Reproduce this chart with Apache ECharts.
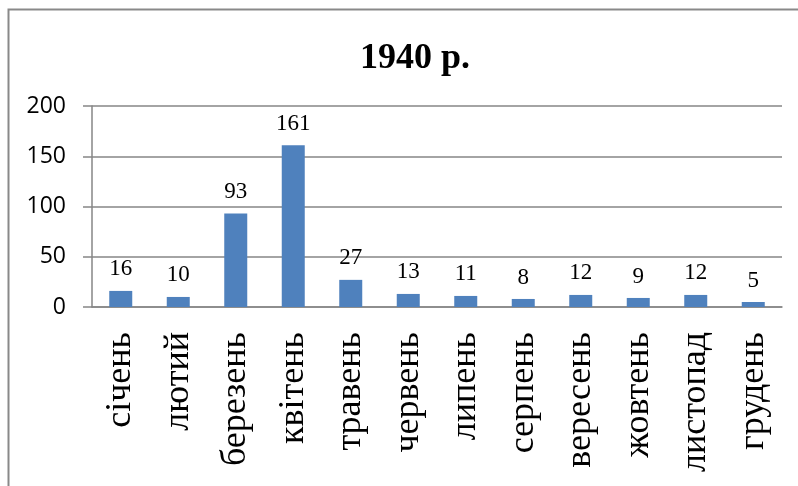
<!DOCTYPE html>
<html>
<head>
<meta charset="utf-8">
<script src="https://cdn.jsdelivr.net/npm/echarts@6/dist/echarts.min.js"></script>
<style>
  html, body { margin: 0; padding: 0; background: #fff; }
  #main { width: 798px; height: 486px; }
</style>
</head>
<body>
<div id="main"></div>
<script>
var months = ['січень', 'лютий', 'березень', 'квітень', 'травень', 'червень',
  'липень', 'серпень', 'вересень', 'жовтень', 'листопад', 'грудень'];
var values = [16, 10, 93, 161, 27, 13, 11, 8, 12, 9, 12, 5];
var yTicks = [0, 50, 100, 150, 200];

var chart = echarts.init(document.getElementById('main'));

var option = {
  backgroundColor: '#fff',
  animation: false,
  title: {
    text: '1940 р.',
    left: 410,
    top: 36,
    textAlign: 'center',
    textStyle: {
      fontFamily: 'Liberation Serif',
      fontWeight: 'bold',
      fontSize: 36,
      color: '#000'
    }
  },
  graphic: [{
    type: 'rect',
    shape: { x: 8.5, y: 9.5, width: 900, height: 600 },
    style: { fill: 'none', stroke: '#898989', lineWidth: 2 },
    silent: true
  }],
  grid: { left: 92, right: 16, top: 106, bottom: 179 },
  xAxis: {
    type: 'category',
    data: months,
    axisLine: { lineStyle: { color: '#868686', width: 1.5 } },
    axisTick: { length: 6, lineStyle: { color: '#868686', width: 1.5 } },
    axisLabel: {
      rotate: 90,
      margin: 25,
      interval: 0,
      fontFamily: 'Liberation Serif',
      fontSize: 36,
      color: '#000'
    }
  },
  yAxis: {
    type: 'value',
    min: yTicks[0],
    max: yTicks[yTicks.length - 1],
    interval: 50,
    axisLine: { show: true, lineStyle: { color: '#868686', width: 1.5 } },
    axisTick: { show: true, length: 9, lineStyle: { color: '#868686', width: 1.5 } },
    splitLine: { lineStyle: { color: '#868686', width: 1.5 } },
    axisLabel: {
      margin: 26,
      fontFamily: 'Open Sans',
      fontSize: 23,
      color: '#000'
    }
  },
  series: [{
    type: 'bar',
    data: values,
    barWidth: 23,
    itemStyle: { color: '#4F81BD' },
    label: {
      show: true,
      position: 'top',
      distance: 10,
      fontFamily: 'Liberation Serif',
      fontSize: 23,
      color: '#000'
    }
  }]
};

chart.setOption(option);
</script>
</body>
</html>
